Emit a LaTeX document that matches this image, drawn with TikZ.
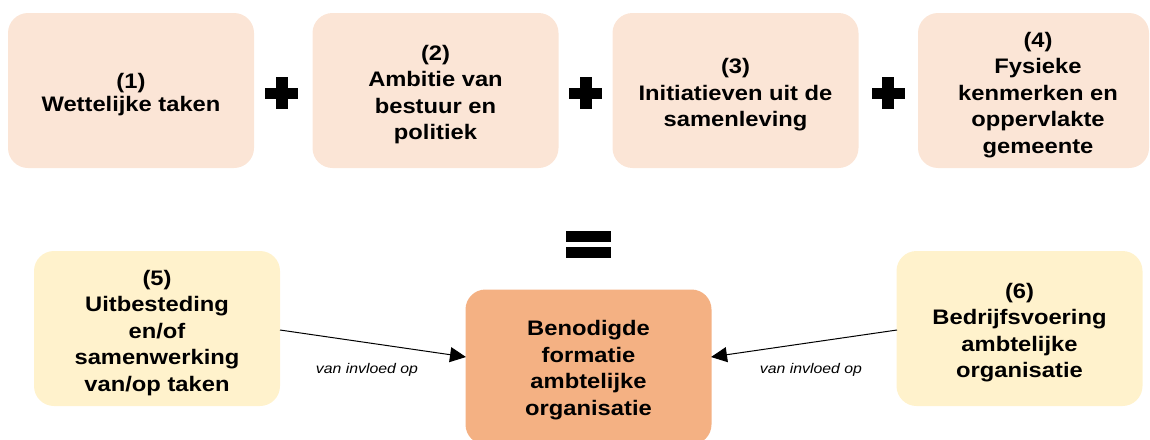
\documentclass[tikz,border=0pt]{standalone}
\usepackage{fontspec}
\setmainfont{Liberation Sans}[FakeStretch=1.13]
\usetikzlibrary{arrows.meta}
\definecolor{peach}{HTML}{FBE5D6}
\definecolor{cream}{HTML}{FFF2CC}
\definecolor{salmon}{HTML}{F4B183}
\newcommand{\dn}{\rule{0pt}{23.5pt}}
\tikzset{
  box/.style={rounded corners=20pt, minimum width=246pt, minimum height=155pt,
    align=center, inner sep=0pt, font=\fontsize{21}{26.5}\selectfont\bfseries},
  topbox/.style={box, fill=peach},
  sidebox/.style={box, fill=cream},
  mainbox/.style={box, fill=salmon},
  link/.style={-{Triangle[length=16pt,width=15pt]}, line width=1pt, black},
  lbl/.style={font=\fontsize{14}{16}\selectfont\itshape, inner sep=0pt},
}
\begin{document}
\begin{tikzpicture}[x=1pt,y=-1pt]
\useasboundingbox (0,0) rectangle (1150,439);
% top row
\node[topbox, font=\fontsize{21}{23.5}\selectfont\bfseries] (b1) at (131,90.5) {\dn(1)\\Wettelijke taken};
\node[topbox] (b2) at (435.5,90.5) {\dn(2)\\Ambitie van\\bestuur en\\politiek};
\node[topbox] (b3) at (735.5,90.5) {\dn(3)\\Initiatieven uit de\\samenleving};
\node[topbox, minimum width=231pt] (b4) at (1033.5,90.5) {\dn\hspace*{9pt}(4)\\\hspace*{9pt}Fysieke\\\hspace*{9pt}kenmerken en\\\hspace*{9pt}oppervlakte\\\hspace*{9pt}gemeente};
% plus signs
\foreach \cx in {281.5,585.5,888}{
  \fill (\cx-16.5,87.5) rectangle (\cx+16.5,99);
  \fill (\cx-6,77) rectangle (\cx+6,109);
}
% equals sign
\fill (566,230.7) rectangle (610.7,241.7);
\fill (566,246.7) rectangle (610.7,257.7);
% bottom row
\node[sidebox] (b5) at (157,328.5) {\dn(5)\\Uitbesteding\\en/of\\samenwerking\\van/op taken};
\node[mainbox] (b7) at (588.5,367) {\rule{0pt}{21.5pt}Benodigde\\formatie\\ambtelijke\\organisatie};
\node[sidebox] (b6) at (1019.5,328.5) {\dn(6)\\Bedrijfsvoering\\ambtelijke\\organisatie};
% connectors
\coordinate (s5) at (280,330);
\coordinate (t5) at (466,357);
\coordinate (s6) at (897,330);
\coordinate (t6) at (711,357);
\draw[link] (s5) -- (t5);
\draw[link] (s6) -- (t6);
\node[lbl] (l1) at (367,370) {van invloed op};
\node[lbl] (l2) at (811,370) {van invloed op};
\end{tikzpicture}
\end{document}
